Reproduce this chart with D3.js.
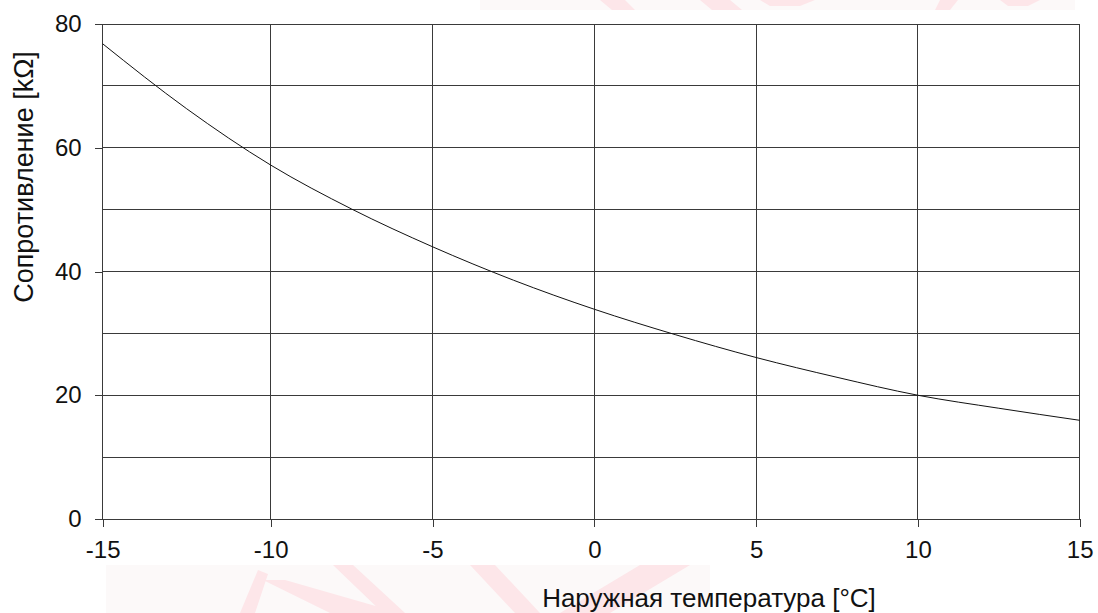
<!DOCTYPE html>
<html>
<head>
<meta charset="utf-8">
<script src="https://cdn.jsdelivr.net/npm/d3@7"></script>
<style>
  html, body { margin: 0; padding: 0; background: #fff; }
  svg { display: block; font-family: "Liberation Sans", Arial, sans-serif; }
</style>
</head>
<body>
<svg id="chart" width="1098" height="613"></svg>
<script>
// ---- data ----
const temperatures = [-15, -12.5, -10, -7.5, -5, -2.5, 0, 2.5, 5, 7.5, 10, 12.5, 15];
const resistance   = [76.8, 66.3, 57.2, 50.1, 44.0, 38.6, 33.9, 29.8, 26.1, 22.9, 20.0, 17.9, 15.95];
const xTickValues = [-15, -10, -5, 0, 5, 10, 15];
const yTickValues = [0, 20, 40, 60, 80];
const yGridValues = [0, 10, 20, 30, 40, 50, 60, 70, 80];
const xTitle = "Наружная температура [°C]";
const yTitle = "Сопротивление [kΩ]";

const svg = d3.select("#chart");

// ---- faint watermark strips (decorative) ----
const wm = svg.append("g").attr("class", "watermark");
wm.append("rect").attr("x", 106).attr("y", 565).attr("width", 604).attr("height", 48).attr("fill", "#fcf9f9");
wm.append("rect").attr("x", 480).attr("y", 0).attr("width", 595).attr("height", 10).attr("fill", "#fcf9f9");
const wmPolys = [
  [[263,580],[285,580],[400,613],[330,613]],
  [[333,565],[353,565],[405,613],[383,613]],
  [[240,613],[258,570],[268,574],[255,613]],
  [[470,565],[495,565],[540,613],[515,613]],
  [[560,613],[640,565],[690,565],[610,613]],
  [[600,0],[625,0],[635,10],[612,10]],
  [[700,0],[730,0],[742,10],[712,10]],
  [[760,0],[815,0],[800,6],[770,6]],
  [[940,0],[958,0],[950,10],[935,10]],
  [[1000,0],[1040,0],[1028,6],[1008,6]]
];
wm.selectAll("polygon").data(wmPolys).join("polygon")
  .attr("points", d => d.map(p => p.join(",")).join(" "))
  .attr("fill", "#fde6e9");

// ---- scales ----
const x = d3.scaleLinear().domain([-15, -10, 15]).range([102.7, 270.7, 1079.7]);
const y = d3.scaleLinear().domain([0, 80]).range([519, 24]);

// white plot background
svg.append("rect")
  .attr("x", x(-15)).attr("y", y(80))
  .attr("width", x(15) - x(-15)).attr("height", y(0) - y(80))
  .attr("fill", "#fff");

// ---- grid ----
const grid = svg.append("g").attr("stroke", "#3a3a3a").attr("stroke-width", 1).attr("shape-rendering", "crispEdges");
grid.selectAll("line.h").data(yGridValues).join("line")
  .attr("class", "h")
  .attr("x1", x(-15)).attr("x2", x(15))
  .attr("y1", d => y(d)).attr("y2", d => y(d));
grid.selectAll("line.v").data(xTickValues).join("line")
  .attr("class", "v")
  .attr("y1", y(0)).attr("y2", y(80))
  .attr("x1", d => x(d)).attr("x2", d => x(d));

// ---- axes ----
const fmt = d => String(d);
const xAxis = svg.append("g")
  .attr("transform", `translate(0,${y(0)})`)
  .call(d3.axisBottom(x).tickValues(xTickValues).tickSize(8).tickPadding(14).tickFormat(fmt));
const yAxis = svg.append("g")
  .attr("transform", `translate(${x(-15)},0)`)
  .call(d3.axisLeft(y).tickValues(yTickValues).tickSize(8).tickPadding(13).tickFormat(fmt));

[xAxis, yAxis].forEach(a => {
  a.select(".domain").remove();
  a.selectAll(".tick line").attr("stroke", "#3a3a3a").attr("shape-rendering", "crispEdges");
  a.selectAll(".tick text")
    .attr("fill", "#111")
    .style("font-family", "'Liberation Sans', Arial, sans-serif")
    .style("font-size", "24px");
});
xAxis.selectAll(".tick text").attr("dy", "0.71em");

// ---- curve ----
const pts = temperatures.map((t, i) => [t, resistance[i]]);
svg.append("path")
  .datum(pts)
  .attr("fill", "none")
  .attr("stroke", "#111")
  .attr("stroke-width", 1)
  .attr("d", d3.line().x(d => x(d[0])).y(d => y(d[1])).curve(d3.curveMonotoneX));

// ---- titles ----
svg.append("text")
  .attr("x", 709).attr("y", 607)
  .attr("text-anchor", "middle")
  .attr("fill", "#111")
  .style("font-size", "26px")
  .text(xTitle);

svg.append("text")
  .attr("transform", "translate(33,177) rotate(-90)")
  .attr("text-anchor", "middle")
  .attr("fill", "#111")
  .style("font-size", "27px")
  .text(yTitle);
</script>
</body>
</html>
